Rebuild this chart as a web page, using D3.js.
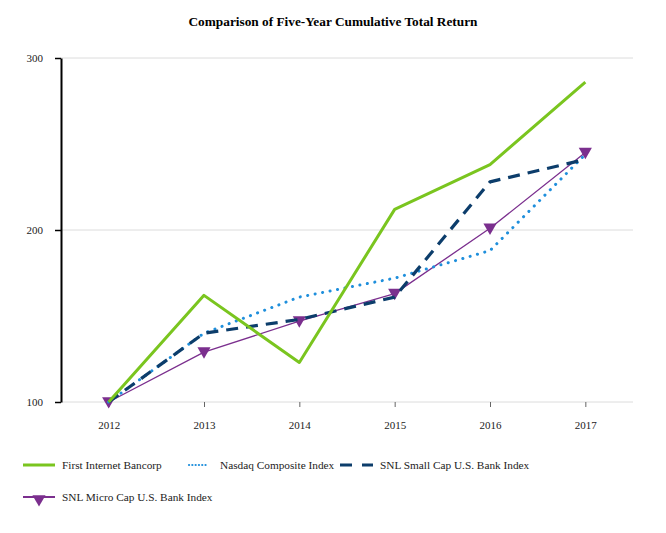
<!doctype html>
<html>
<head>
<meta charset="UTF-8">
<title>Comparison of Five-Year Cumulative Total Return</title>
<style>
  body { margin: 0; background: #fff; }
  #container { font-size: 0; }
</style>
</head>
<body>
<div id="container"></div>
<script src="https://cdn.jsdelivr.net/npm/d3@7"></script>
<script>
  var w = 666;
  var h = 533;

  var years = ["2012", "2013", "2014", "2015", "2016", "2017"];
  var firstInternet = [100, 162, 123, 212, 238, 286];
  var nasdaq = [100, 140, 161, 172, 188, 244];
  var snlSmall = [100, 140, 148, 161, 228, 241];
  var snlMicro = [100, 129, 147, 163, 201, 245];
  var yTicks = [100, 200, 300];

  var series = [
    {name: "First Internet Bancorp", values: firstInternet, color: "#7ac51f", width: 3, dash: null},
    {name: "Nasdaq Composite Index", values: nasdaq, color: "#1f8fdc", width: 3, dash: "0.1,7.5", cap: "round"},
    {name: "SNL Small Cap U.S. Bank Index", values: snlSmall, color: "#0c3d6b", width: 3.2, dash: "12,8"},
    {name: "SNL Micro Cap U.S. Bank Index", values: snlMicro, color: "#7b2f8e", width: 1.3, dash: null, marker: true}
  ];

  var plotLeft = 61, plotRight = 633, plotTop = 58, plotBottom = 402;

  var x = d3.scalePoint().domain(years).range([plotLeft, plotRight]).padding(0.5);
  var y = d3.scaleLinear().domain([100, 300]).range([plotBottom, plotTop]);

  var svg = d3.select("#container").append("svg")
      .attr("width", w).attr("height", h)
      .style("font-family", "'Liberation Serif', 'Times New Roman', serif");

  svg.append("text")
      .attr("x", w / 2).attr("y", 26)
      .attr("text-anchor", "middle")
      .attr("font-size", 13.3).attr("font-weight", "bold")
      .text("Comparison of Five-Year Cumulative Total Return");

  // grid
  svg.append("g").selectAll("line").data(yTicks).enter().append("line")
      .attr("x1", plotLeft).attr("x2", plotRight)
      .attr("y1", function (d) { return y(d); })
      .attr("y2", function (d) { return y(d); })
      .attr("stroke", "#dcdcdc").attr("stroke-width", 1);

  // y axis
  var yAxis = svg.append("g")
      .attr("transform", "translate(" + plotLeft + ",0)")
      .call(d3.axisLeft(y).tickValues(yTicks).tickSize(6).tickPadding(12).tickSizeOuter(0));
  yAxis.select(".domain").attr("stroke", "#000").attr("stroke-width", 2);
  yAxis.selectAll(".tick line").attr("stroke", "#000").attr("stroke-width", 1.5);
  yAxis.selectAll("text").attr("font-size", 11).attr("font-family", "'Liberation Serif', serif").attr("fill", "#222");

  // x axis
  var xAxis = svg.append("g")
      .attr("transform", "translate(0," + plotBottom + ")")
      .call(d3.axisBottom(x).tickSize(5).tickPadding(14));
  xAxis.select(".domain").remove();
  xAxis.selectAll(".tick line").attr("stroke", "#666");
  xAxis.selectAll("text").attr("font-size", 11).attr("font-family", "'Liberation Serif', serif").attr("fill", "#222");

  var line = d3.line()
      .x(function (d, i) { return x(years[i]); })
      .y(function (d) { return y(d); });

  var tri = d3.symbol().type(d3.symbolTriangle).size(75);

  // draw order: micro, nasdaq, small, first
  [series[3], series[1], series[2], series[0]].forEach(function (s) {
    svg.append("path")
        .datum(s.values)
        .attr("d", line)
        .attr("fill", "none")
        .attr("stroke", s.color)
        .attr("stroke-width", s.width)
        .attr("stroke-dasharray", s.dash)
        .attr("stroke-linecap", s.cap || "butt")
        .attr("stroke-linejoin", "round");
    if (s.marker) {
      svg.append("g").selectAll("path").data(s.values).enter().append("path")
          .attr("d", tri)
          .attr("transform", function (d, i) {
            return "translate(" + x(years[i]) + "," + (y(d) - 1) + ") rotate(180)";
          })
          .attr("fill", s.color);
    }
  });

  // legend
  var legendPos = [
    {x: 23, y: 465, len: 32, tx: 62, dash: null},
    {x: 189, y: 465, len: 18, tx: 220, dash: "0.1,3.2"},
    {x: 340, y: 465, len: 33, tx: 380, dash: "12,10"},
    {x: 23, y: 497, len: 32, tx: 62, dash: null}
  ];
  var legend = svg.append("g");
  series.forEach(function (s, i) {
    var p = legendPos[i];
    legend.append("line")
        .attr("x1", p.x).attr("x2", p.x + p.len)
        .attr("y1", p.y).attr("y2", p.y)
        .attr("stroke", s.color)
        .attr("stroke-width", s.marker ? 2 : (s.cap ? 2.2 : 3))
        .attr("stroke-linecap", s.cap || "butt")
        .attr("stroke-dasharray", p.dash);
    if (s.marker) {
      legend.append("path")
          .attr("d", tri)
          .attr("transform", "translate(" + (p.x + p.len / 2) + "," + (p.y + 2) + ") rotate(180)")
          .attr("fill", s.color);
    }
    legend.append("text")
        .attr("x", p.tx).attr("y", p.y + 4)
        .attr("font-size", 11.3).attr("fill", "#222")
        .text(s.name);
  });
</script>
</body>
</html>
